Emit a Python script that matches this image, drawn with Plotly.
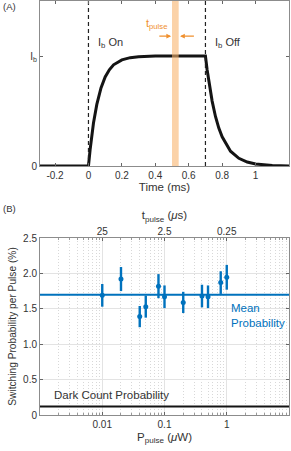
import plotly.graph_objects as go

# ---- Panel A data ----
time_ms = [-0.29, 0.0, 0.01, 0.02, 0.03, 0.05, 0.075, 0.1, 0.125, 0.15, 0.2, 0.25, 0.3, 0.4, 0.5, 0.6, 0.7,
           0.71, 0.72, 0.74, 0.76, 0.78, 0.8, 0.85, 0.9, 0.95, 1.0, 1.1, 1.2]
current = [0.0, 0.0, 0.15, 0.28, 0.39, 0.56, 0.71, 0.81, 0.875, 0.92, 0.965, 0.985, 0.993, 1.0, 1.0, 1.0, 1.0,
           0.875, 0.77, 0.59, 0.45, 0.345, 0.265, 0.135, 0.07, 0.036, 0.018, 0.005, 0.0]
ib_on_t = 0.0
ib_off_t = 0.7
pulse_start = 0.5
pulse_end = 0.54

# ---- Panel B data ----
p_pulse = [0.01, 0.02, 0.04, 0.05, 0.08, 0.1, 0.2, 0.4, 0.5, 0.8, 1.0]
switch_prob = [1.69, 1.92, 1.39, 1.53, 1.82, 1.67, 1.59, 1.68, 1.67, 1.87, 1.945]
switch_err = [0.16, 0.17, 0.15, 0.155, 0.17, 0.16, 0.15, 0.16, 0.16, 0.16, 0.175]
mean_prob = 1.7
dark_prob = 0.12
top_tick_p = [0.01, 0.1, 1]
top_tick_labels = ["25", "2.5", "0.25"]

BLUE = "#0072BD"
ORANGE = "#F0902E"
BAND = "rgba(249,180,110,0.6)"
FONT = "Liberation Sans, Arial, sans-serif"
TXT = "#333333"
AX = "#8c8c8c"

minor_vals = [m * 10.0 ** e for e in range(-3, 1) for m in range(2, 10)]

fig = go.Figure()

# Panel A curve
fig.add_trace(go.Scatter(x=time_ms, y=current, mode="lines",
                         line=dict(color="#141414", width=3), xaxis="x", yaxis="y",
                         showlegend=False, hoverinfo="skip"))
for t in [ib_on_t, ib_off_t]:
    fig.add_trace(go.Scatter(x=[t, t], y=[0, 1.5], mode="lines",
                             line=dict(color="#222", width=1.2, dash="4px,3px"),
                             xaxis="x", yaxis="y", showlegend=False, hoverinfo="skip"))

# Panel B
fig.add_trace(go.Scatter(x=[1e-3, 10], y=[dark_prob, dark_prob], mode="lines",
                         line=dict(color="#141414", width=2.2), xaxis="x2", yaxis="y2",
                         showlegend=False, hoverinfo="skip"))
fig.add_trace(go.Scatter(x=[1e-3, 10], y=[mean_prob, mean_prob], mode="lines",
                         line=dict(color=BLUE, width=2), xaxis="x2", yaxis="y2",
                         showlegend=False, hoverinfo="skip"))
fig.add_trace(go.Scatter(x=p_pulse, y=switch_prob, mode="markers",
                         marker=dict(color=BLUE, size=5),
                         error_y=dict(type="data", array=switch_err, width=0, thickness=2.4, color=BLUE),
                         xaxis="x2", yaxis="y2", showlegend=False))
fig.add_trace(go.Scatter(x=[1e-3, 10], y=[None, None], xaxis="x3", yaxis="y2",
                         showlegend=False, hoverinfo="skip"))

fig.add_shape(type="rect", xref="x", yref="y", x0=pulse_start, x1=pulse_end, y0=0, y1=1.5,
              fillcolor=BAND, line=dict(width=0), layer="above")

tickfont = dict(family=FONT, size=10, color=TXT)
common = dict(showline=True, linecolor=AX, linewidth=1, mirror="ticks", ticks="inside",
              ticklen=3, tickcolor="#666", zeroline=False, tickfont=tickfont, automargin=False)

dA_x = [40 / 291, 289 / 291]
dA_y = [(451 - 166) / 451, (451 - 1) / 451]
dB_y = [(451 - 415) / 451, (451 - 238) / 451]

fig.update_layout(
    width=291, height=451, margin=dict(l=0, r=0, t=0, b=0, autoexpand=False),
    paper_bgcolor="white", plot_bgcolor="white",
    font=dict(family=FONT, size=10, color=TXT),
    xaxis=dict(domain=dA_x, anchor="y", range=[-0.29, 1.2],
               tickvals=[-0.2, 0, 0.2, 0.4, 0.6, 0.8, 1], ticktext=["-0.2", "0", "0.2", "0.4", "0.6", "0.8", "1"],
               title=dict(text="Time (ms)", font=dict(size=11.5, color=TXT), standoff=2),
               showgrid=False, **common),
    yaxis=dict(domain=dA_y, anchor="x", range=[0, 1.5], tickvals=[0, 1], ticktext=["0", "I<sub>b</sub>"],
               showgrid=False, **common),
    xaxis2=dict(domain=dA_x, anchor="y2", type="log", range=[-3, 1],
                tickvals=[0.01, 0.1, 1], ticktext=["0.01", "0.1", "1"],
                title=dict(text="P<sub>pulse</sub> (<i>μ</i>W)", font=dict(size=11.5, color=TXT), standoff=3),
                showgrid=True, gridcolor="#e3e3e3", gridwidth=1,
                minor=dict(tickmode="array", tickvals=minor_vals, ticks="inside", ticklen=2, tickcolor="#999",
                           showgrid=True, gridcolor="#d8d8d8", griddash="1px,2px", gridwidth=1),
                **common),
    xaxis3=dict(domain=dA_x, anchor="y2", overlaying="x2", side="top", type="log", range=[-3, 1],
                tickvals=top_tick_p, ticktext=top_tick_labels,
                title=dict(text="t<sub>pulse</sub> (<i>μ</i>s)", font=dict(size=11.5, color=TXT), standoff=3),
                showgrid=False, showline=False, ticks="inside", ticklen=3, tickcolor="#666",
                minor=dict(tickmode="array", tickvals=minor_vals, ticks="inside", ticklen=2, tickcolor="#999",
                           showgrid=False),
                tickfont=tickfont, automargin=False),
    yaxis2=dict(domain=dB_y, anchor="x2", range=[0, 2.5],
                tickvals=[0, 0.5, 1, 1.5, 2, 2.5], ticktext=["0", "0.5", "1.0", "1.5", "2.0", "2.5"],
                title=dict(text="Switching Probability per Pulse (%)", font=dict(size=10.2, color=TXT), standoff=4),
                showgrid=True, gridcolor="#e3e3e3", gridwidth=1, **common),
)

ann = [
    dict(text="(A)", xref="paper", yref="paper", x=0.005, y=1 - 7 / 451, xanchor="left", yanchor="middle",
         showarrow=False, font=dict(size=9.5, color=TXT)),
    dict(text="(B)", xref="paper", yref="paper", x=0.005, y=1 - 208 / 451, xanchor="left", yanchor="middle",
         showarrow=False, font=dict(size=9.5, color=TXT)),
    dict(text="I<sub>b</sub> On", xref="x", yref="y", x=0.045, y=1.12, xanchor="left", yanchor="middle",
         showarrow=False, font=dict(size=11, color=TXT)),
    dict(text="I<sub>b</sub> Off", xref="x", yref="y", x=0.745, y=1.12, xanchor="left", yanchor="middle",
         showarrow=False, font=dict(size=11, color=TXT)),
    dict(text="t<sub>pulse</sub>", xref="x", yref="y", x=0.41, y=1.29, xanchor="center", yanchor="middle",
         showarrow=False, font=dict(size=11, color=ORANGE)),
    dict(text="", xref="x", yref="y", axref="x", ayref="y", x=0.495, y=1.18, ax=0.415, ay=1.18,
         showarrow=True, arrowhead=2, arrowsize=0.8, arrowwidth=1.2, arrowcolor=ORANGE),
    dict(text="", xref="x", yref="y", axref="x", ayref="y", x=0.548, y=1.18, ax=0.64, ay=1.18,
         showarrow=True, arrowhead=2, arrowsize=0.8, arrowwidth=1.2, arrowcolor=ORANGE),
    dict(text="Mean<br>Probability", xref="x2", yref="y2", x=0.034, y=1.405, xanchor="left", yanchor="middle",
         align="left", showarrow=False, font=dict(size=11.5, color=BLUE)),
    dict(text="Dark Count Probability", xref="x2", yref="y2", x=-2.815, y=0.28, xanchor="left",
         yanchor="middle", showarrow=False, font=dict(size=11.5, color=TXT)),
]
fig.update_layout(annotations=ann)

fig.write_html("out.html", config={"staticPlot": True, "displayModeBar": False},
               post_script="document.body.style.margin='0';document.body.style.overflow='hidden';")
